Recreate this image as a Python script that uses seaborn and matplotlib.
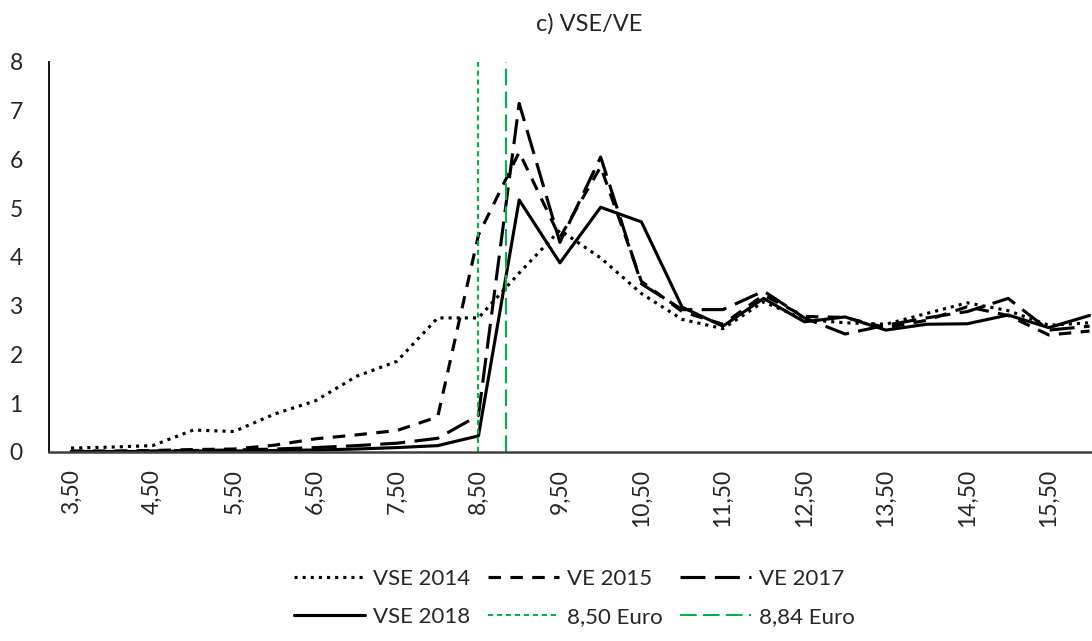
import numpy as np
import pandas as pd
import seaborn as sns
import matplotlib.pyplot as plt
from matplotlib.lines import Line2D

sns.set_style("white")
plt.rcParams['font.family'] = ['Lato', 'DejaVu Sans']

# hourly wage categories (Euro)
wage = [3.50, 4.00, 4.50, 5.00, 5.50, 6.00, 6.50, 7.00, 7.50, 8.00, 8.50, 9.00, 9.50,
        10.00, 10.50, 11.00, 11.50, 12.00, 12.50, 13.00, 13.50, 14.00, 14.50, 15.00, 15.50, 16.00]

vse_2014 = [0.08, 0.10, 0.13, 0.45, 0.42, 0.78, 1.05, 1.55, 1.86, 2.75, 2.75, 3.67, 4.55,
            3.98, 3.25, 2.72, 2.53, 3.08, 2.72, 2.65, 2.62, 2.84, 3.06, 2.90, 2.60, 2.65]
ve_2015 = [0.02, 0.02, 0.03, 0.05, 0.06, 0.14, 0.27, 0.35, 0.44, 0.72, 4.45, 6.15, 4.40,
           5.85, 3.50, 2.88, 2.62, 3.22, 2.78, 2.76, 2.55, 2.70, 2.98, 2.80, 2.40, 2.48]
ve_2017 = [0.00, 0.00, 0.02, 0.03, 0.04, 0.06, 0.09, 0.13, 0.18, 0.28, 0.75, 7.15, 4.30,
           6.05, 3.45, 2.92, 2.92, 3.30, 2.75, 2.42, 2.60, 2.75, 2.88, 3.15, 2.50, 2.58]
vse_2018 = [0.01, 0.01, 0.01, 0.02, 0.02, 0.03, 0.04, 0.06, 0.09, 0.13, 0.33, 5.17, 3.88,
            5.02, 4.72, 2.97, 2.58, 3.15, 2.67, 2.77, 2.50, 2.62, 2.63, 2.81, 2.55, 2.80]

min_wage = [8.50, 8.84]
min_wage_labels = ["8,50 Euro", "8,84 Euro"]

tick_pos = [3.5, 4.5, 5.5, 6.5, 7.5, 8.5, 9.5, 10.5, 11.5, 12.5, 13.5, 14.5, 15.5]
tick_labels = ["3,50", "4,50", "5,50", "6,50", "7,50", "8,50", "9,50",
               "10,50", "11,50", "12,50", "13,50", "14,50", "15,50"]

df = pd.DataFrame({"wage": wage, "VSE 2014": vse_2014, "VE 2015": ve_2015,
                   "VE 2017": ve_2017, "VSE 2018": vse_2018})

fig = plt.figure(figsize=(10.92, 6.41), dpi=100)
ax = fig.add_axes([0.0449, 0.2949, 0.9551, 0.6084])

styles = {
    "VSE 2014": (0, (1, 1.6)),
    "VE 2015": (0, (4, 3)),
    "VE 2017": (0, (8, 3)),
    "VSE 2018": "-",
}
handles = {}
for name, ls in styles.items():
    sns.lineplot(data=df, x="wage", y=name, ax=ax, color="black", linewidth=2.25,
                 linestyle=ls, legend=False)
    handles[name] = Line2D([], [], color="black", lw=2.25, linestyle=ls)

green = "#00B050"
vstyles = [(0, (2.5, 1.8)), (0, (8, 3))]
for v, lab, ls in zip(min_wage, min_wage_labels, vstyles):
    ax.axvline(v, color=green, lw=1.5, linestyle=ls)
    handles[lab] = Line2D([], [], color=green, lw=1.5, linestyle=ls)

ax.set_xlim(3.23, 16.03)
ax.set_ylim(0, 8)
ax.set_yticks(range(0, 9))
ax.set_xticks(tick_pos)
ax.set_xticklabels(tick_labels, rotation=90)
ax.tick_params(axis="x", length=0, pad=12, labelsize=16.5)
ax.tick_params(axis="y", length=0, pad=19, labelsize=16.5)
ax.set_xlabel("")
ax.set_ylabel("")
for s in ["top", "right"]:
    ax.spines[s].set_visible(False)
ax.spines["left"].set_color("black")
ax.spines["left"].set_linewidth(1.3)
ax.spines["bottom"].set_color("#404040")
ax.spines["bottom"].set_linewidth(1.8)

fig.text(0.54, 0.963, "c) VSE/VE", ha="center", va="center", fontsize=17)

order = ["VSE 2014", "VSE 2018", "VE 2015", "8,50 Euro", "VE 2017", "8,84 Euro"]
fig.legend([handles[k] for k in order], order, loc="center", bbox_to_anchor=(0.526, 0.067),
           ncol=3, frameon=False, fontsize=16, handlelength=3.2, handletextpad=0.35,
           columnspacing=0.8, labelspacing=0.8)

fig.savefig("out.png", dpi=100)
